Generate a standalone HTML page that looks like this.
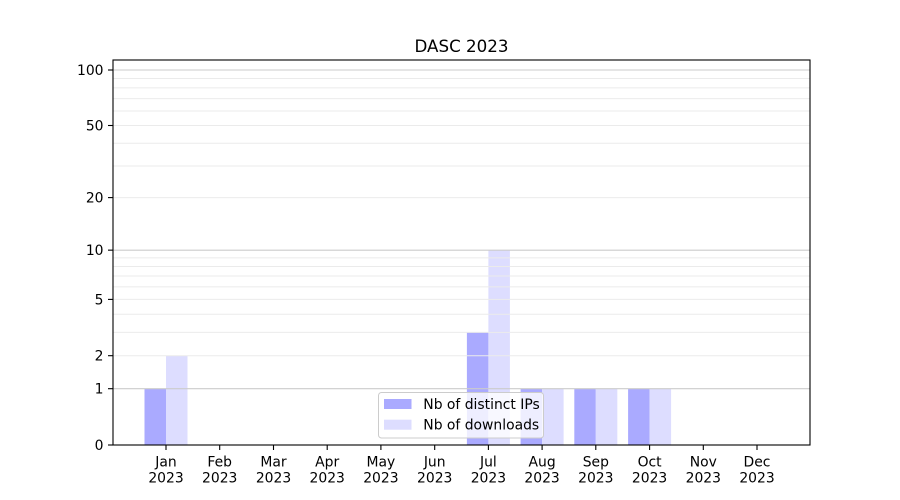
<!DOCTYPE html>
<html><head><meta charset="utf-8"><style>
html,body{margin:0;padding:0;background:#fff;}
svg{display:block;}
text{font-family:"DejaVu Sans","Liberation Sans",sans-serif;fill:#000;}
</style></head><body>
<svg width="900" height="500" viewBox="0 0 900 500" xmlns="http://www.w3.org/2000/svg">
<rect width="900" height="500" fill="#fff"/>
<!-- bars -->
<g>
<rect x="144.5" y="388.7" width="21.5" height="56.3" fill="#aaaaff"/>
<rect x="166" y="355.7" width="21.5" height="89.3" fill="#ddddff"/>
<rect x="466.9" y="332.35" width="21.5" height="112.65" fill="#aaaaff"/>
<rect x="488.4" y="250.15" width="21.5" height="194.85" fill="#ddddff"/>
<rect x="520.6" y="388.7" width="21.5" height="56.3" fill="#aaaaff"/>
<rect x="542.1" y="388.7" width="21.5" height="56.3" fill="#ddddff"/>
<rect x="574.3" y="388.7" width="21.5" height="56.3" fill="#aaaaff"/>
<rect x="595.8" y="388.7" width="21.5" height="56.3" fill="#ddddff"/>
<rect x="628.1" y="388.7" width="21.5" height="56.3" fill="#aaaaff"/>
<rect x="649.6" y="388.7" width="21.5" height="56.3" fill="#ddddff"/>
</g>
<!-- minor grid -->
<g stroke="#ebebeb" stroke-width="1">
<line x1="113" x2="810" y1="355.7" y2="355.7"/>
<line x1="113" x2="810" y1="332.35" y2="332.35"/>
<line x1="113" x2="810" y1="314.2" y2="314.2"/>
<line x1="113" x2="810" y1="299.4" y2="299.4"/>
<line x1="113" x2="810" y1="286.9" y2="286.9"/>
<line x1="113" x2="810" y1="276.0" y2="276.0"/>
<line x1="113" x2="810" y1="266.5" y2="266.5"/>
<line x1="113" x2="810" y1="257.9" y2="257.9"/>
<line x1="113" x2="810" y1="197.6" y2="197.6"/>
<line x1="113" x2="810" y1="166.0" y2="166.0"/>
<line x1="113" x2="810" y1="143.25" y2="143.25"/>
<line x1="113" x2="810" y1="125.5" y2="125.5"/>
<line x1="113" x2="810" y1="111.0" y2="111.0"/>
<line x1="113" x2="810" y1="98.6" y2="98.6"/>
<line x1="113" x2="810" y1="87.9" y2="87.9"/>
<line x1="113" x2="810" y1="78.5" y2="78.5"/>
</g>
<!-- major grid -->
<g stroke="#cbcbcb" stroke-width="1.1">
<line x1="113" x2="810" y1="388.7" y2="388.7"/>
<line x1="113" x2="810" y1="250.15" y2="250.15"/>
<line x1="113" x2="810" y1="70" y2="70"/>
</g>
<!-- axes frame -->
<rect x="113" y="60" width="697" height="385" fill="none" stroke="#000" stroke-width="1.1"/>
<!-- y ticks -->
<g stroke="#000" stroke-width="1.1">
<line x1="108" x2="113" y1="445" y2="445"/>
<line x1="108" x2="113" y1="388.7" y2="388.7"/>
<line x1="108" x2="113" y1="355.7" y2="355.7"/>
<line x1="108" x2="113" y1="299.4" y2="299.4"/>
<line x1="108" x2="113" y1="250.15" y2="250.15"/>
<line x1="108" x2="113" y1="197.6" y2="197.6"/>
<line x1="108" x2="113" y1="125.5" y2="125.5"/>
<line x1="108" x2="113" y1="70" y2="70"/>
</g>
<g font-size="13.9" text-anchor="end">
<text x="103.5" y="450">0</text>
<text x="103.5" y="393.7">1</text>
<text x="103.5" y="360.7">2</text>
<text x="103.5" y="304.4">5</text>
<text x="103.5" y="255.15">10</text>
<text x="103.5" y="202.6">20</text>
<text x="103.5" y="130.5">50</text>
<text x="103.5" y="75">100</text>
</g>
<!-- x ticks -->
<g stroke="#000" stroke-width="1.1">
<line x1="166" x2="166" y1="445" y2="450"/>
<line x1="219.7" x2="219.7" y1="445" y2="450"/>
<line x1="273.5" x2="273.5" y1="445" y2="450"/>
<line x1="327.2" x2="327.2" y1="445" y2="450"/>
<line x1="380.9" x2="380.9" y1="445" y2="450"/>
<line x1="434.7" x2="434.7" y1="445" y2="450"/>
<line x1="488.4" x2="488.4" y1="445" y2="450"/>
<line x1="542.1" x2="542.1" y1="445" y2="450"/>
<line x1="595.8" x2="595.8" y1="445" y2="450"/>
<line x1="649.6" x2="649.6" y1="445" y2="450"/>
<line x1="703.3" x2="703.3" y1="445" y2="450"/>
<line x1="757" x2="757" y1="445" y2="450"/>
</g>
<g font-size="13.9" text-anchor="middle">
<text x="166" y="466.5">Jan</text><text x="166" y="482.5">2023</text>
<text x="219.7" y="466.5">Feb</text><text x="219.7" y="482.5">2023</text>
<text x="273.5" y="466.5">Mar</text><text x="273.5" y="482.5">2023</text>
<text x="327.2" y="466.5">Apr</text><text x="327.2" y="482.5">2023</text>
<text x="380.9" y="466.5">May</text><text x="380.9" y="482.5">2023</text>
<text x="434.7" y="466.5">Jun</text><text x="434.7" y="482.5">2023</text>
<text x="488.4" y="466.5">Jul</text><text x="488.4" y="482.5">2023</text>
<text x="542.1" y="466.5">Aug</text><text x="542.1" y="482.5">2023</text>
<text x="595.8" y="466.5">Sep</text><text x="595.8" y="482.5">2023</text>
<text x="649.6" y="466.5">Oct</text><text x="649.6" y="482.5">2023</text>
<text x="703.3" y="466.5">Nov</text><text x="703.3" y="482.5">2023</text>
<text x="757" y="466.5">Dec</text><text x="757" y="482.5">2023</text>
</g>
<!-- title -->
<text x="461.5" y="52" font-size="16.7" text-anchor="middle">DASC 2023</text>
<!-- legend -->
<rect x="378.5" y="392.5" width="165" height="45.5" rx="3" ry="3" fill="#fff" fill-opacity="0.8" stroke="#cccccc" stroke-width="1"/>
<rect x="384" y="399" width="27.5" height="10" fill="#aaaaff"/>
<rect x="384" y="419.7" width="27.5" height="10" fill="#ddddff"/>
<g font-size="13.9">
<text x="423.3" y="409">Nb of distinct IPs</text>
<text x="423.3" y="429.5">Nb of downloads</text>
</g>
</svg>
</body></html>
